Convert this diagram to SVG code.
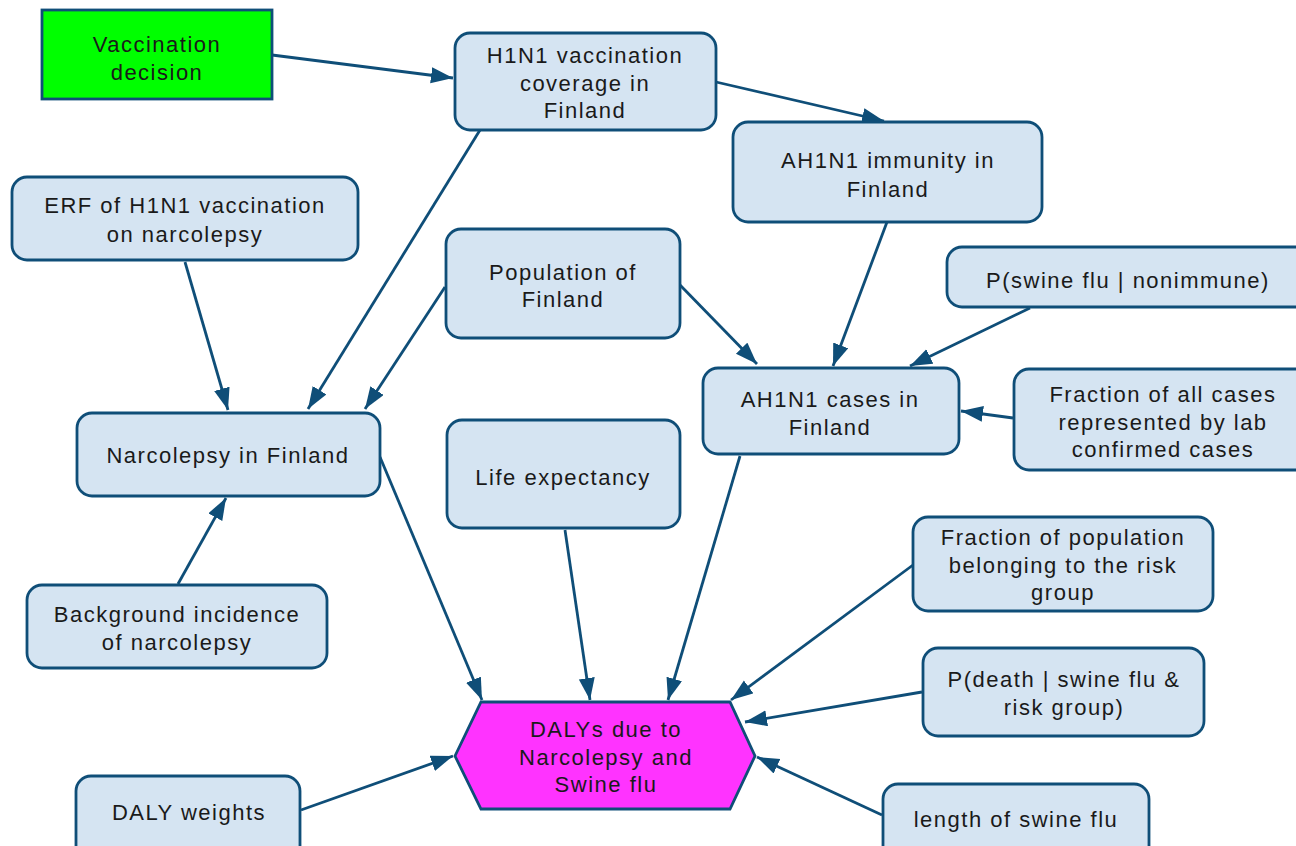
<svg xmlns="http://www.w3.org/2000/svg" width="1296" height="846" viewBox="0 0 1296 846">
<style>
.n rect{fill:#d5e4f2;stroke:#0f4e78;stroke-width:2.8}
.n text,.d text,.h text{font-family:"Liberation Sans",Arial,sans-serif;font-size:22px;letter-spacing:1.5px;fill:#1a1a1a;text-anchor:middle}
.d rect{fill:#00ff00;stroke:#0f4e78;stroke-width:2.8}
.h polygon{fill:#ff33ff;stroke:#0f4e78;stroke-width:2.8}
.e line{stroke:#0f4e78;stroke-width:2.8;fill:none;marker-end:url(#ah)}
</style>
<defs>
<marker id="ah" markerUnits="userSpaceOnUse" markerWidth="24" markerHeight="18" refX="22" refY="8" orient="auto">
<path d="M0,0 L22,8 L0,16 z" fill="#0f4e78"/>
</marker>
</defs>
<rect width="1296" height="846" fill="#ffffff"/>
<g id="edges" class="e">
<line x1="272" y1="55" x2="453" y2="78"/>
<line x1="716" y1="82" x2="884" y2="121"/>
<line x1="480" y1="130" x2="308" y2="409"/>
<line x1="185" y1="262" x2="228" y2="410"/>
<line x1="445" y1="287" x2="365" y2="409"/>
<line x1="680" y1="285" x2="757" y2="364"/>
<line x1="887" y1="222" x2="833" y2="366"/>
<line x1="1030" y1="308" x2="910" y2="366"/>
<line x1="1013" y1="418" x2="961" y2="411"/>
<line x1="178" y1="584" x2="226" y2="498"/>
<line x1="380" y1="457" x2="482" y2="700"/>
<line x1="565" y1="530" x2="590" y2="700"/>
<line x1="740" y1="456" x2="668" y2="700"/>
<line x1="913" y1="565" x2="731" y2="700"/>
<line x1="922" y1="692" x2="745" y2="722"/>
<line x1="882" y1="815" x2="757" y2="757"/>
<line x1="301" y1="810" x2="453" y2="756"/>
</g>
<g id="vaccination_decision" class="d">
<rect x="42" y="10" width="230" height="89"/>
<text x="157" y="52">Vaccination</text>
<text x="157" y="80">decision</text>
</g>
<g id="h1n1_coverage" class="n">
<rect x="455" y="33" width="261" height="97" rx="15"/>
<text x="585" y="63">H1N1 vaccination</text>
<text x="585" y="91">coverage in</text>
<text x="585" y="118">Finland</text>
</g>
<g id="ah1n1_immunity" class="n">
<rect x="733" y="122" width="309" height="100" rx="15"/>
<text x="888" y="168">AH1N1 immunity in</text>
<text x="888" y="197">Finland</text>
</g>
<g id="erf" class="n">
<rect x="12" y="177" width="346" height="83" rx="15"/>
<text x="185" y="213">ERF of H1N1 vaccination</text>
<text x="185" y="242">on narcolepsy</text>
</g>
<g id="population" class="n">
<rect x="446" y="229" width="234" height="109" rx="15"/>
<text x="563" y="280">Population of</text>
<text x="563" y="307">Finland</text>
</g>
<g id="p_swine_flu" class="n">
<rect x="947" y="247" width="370" height="60" rx="15"/>
<text x="1128" y="288">P(swine flu | nonimmune)</text>
</g>
<g id="ah1n1_cases" class="n">
<rect x="703" y="368" width="256" height="86" rx="15"/>
<text x="830" y="407">AH1N1 cases in</text>
<text x="830" y="435">Finland</text>
</g>
<g id="fraction_all_cases" class="n">
<rect x="1014" y="369" width="300" height="101" rx="15"/>
<text x="1163" y="402">Fraction of all cases</text>
<text x="1163" y="430">represented by lab</text>
<text x="1163" y="457">confirmed cases</text>
</g>
<g id="narcolepsy" class="n">
<rect x="77" y="413" width="303" height="83" rx="15"/>
<text x="228" y="463">Narcolepsy in Finland</text>
</g>
<g id="life_expectancy" class="n">
<rect x="447" y="420" width="233" height="108" rx="15"/>
<text x="563" y="485">Life expectancy</text>
</g>
<g id="fraction_population" class="n">
<rect x="913" y="517" width="300" height="94" rx="15"/>
<text x="1063" y="545">Fraction of population</text>
<text x="1063" y="573">belonging to the risk</text>
<text x="1063" y="600">group</text>
</g>
<g id="background_incidence" class="n">
<rect x="27" y="585" width="300" height="83" rx="15"/>
<text x="177" y="622">Background incidence</text>
<text x="177" y="650">of narcolepsy</text>
</g>
<g id="p_death" class="n">
<rect x="923" y="648" width="281" height="88" rx="15"/>
<text x="1064" y="687">P(death | swine flu &amp;</text>
<text x="1064" y="715">risk group)</text>
</g>
<g id="dalys" class="h">
<polygon points="455,756 481,702 730,702 755,756 730,809 481,809"/>
<text x="606" y="737">DALYs due to</text>
<text x="606" y="765">Narcolepsy and</text>
<text x="606" y="792">Swine flu</text>
</g>
<g id="daly_weights" class="n">
<rect x="76" y="776" width="224" height="90" rx="15"/>
<text x="189" y="820">DALY weights</text>
</g>
<g id="length_swine_flu" class="n">
<rect x="883" y="784" width="266" height="90" rx="15"/>
<text x="1016" y="827">length of swine flu</text>
</g>
</svg>
